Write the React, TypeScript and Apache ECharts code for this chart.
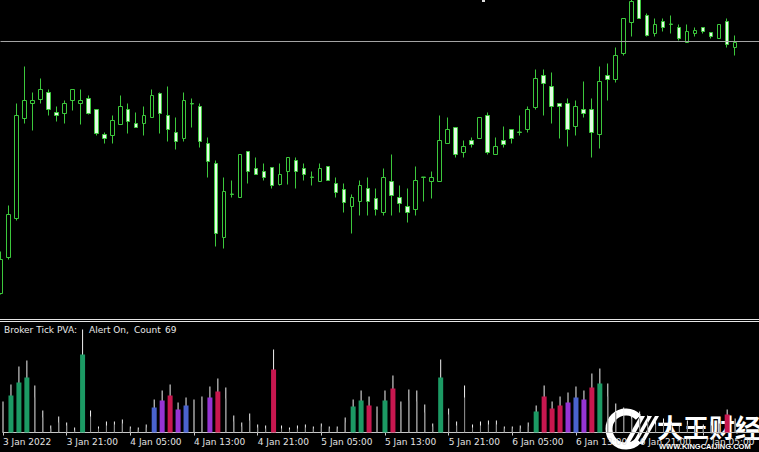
import React, { useEffect, useRef } from "react";
import * as echarts from "echarts";

// hourly categories (H1 chart), first bar 3 Jan 2022 13:00, with a few empty future slots on the right
const START_MS = Date.UTC(2022, 0, 3, 13);
const CATEGORY_COUNT = 96;
const categories: string[] = Array.from({ length: CATEGORY_COUNT }, (_, i) => {
  const d = new Date(START_MS + i * 3600000);
  const p = (n: number) => String(n).padStart(2, "0");
  return `${d.getUTCFullYear()}-${p(d.getUTCMonth() + 1)}-${p(d.getUTCDate())} ${p(d.getUTCHours())}:00`;
});

const tickLabels = [
  "3 Jan 2022", "3 Jan 21:00", "4 Jan 05:00", "4 Jan 13:00", "4 Jan 21:00", "5 Jan 05:00",
  "5 Jan 13:00", "5 Jan 21:00", "6 Jan 05:00", "6 Jan 13:00", "6 Jan 21:00", "7 Jan 05:00",
];

// price in chart points (relative)
const openP = [
  25, 61, 100, 200, 215, 219, 226, 206, 205, 218,
  215, 220, 209, 184, 183, 194, 209, 195, 195, 201,
  225, 203, 186, 180, 214.5, 212, 175, 155, 81, 124,
  121, 167, 150, 147, 151, 134, 147, 158, 150, 141,
  137, 152, 135, 129, 112, 117, 130, 120, 106, 137,
  121, 112, 109, 141, 137, 137, 175, 191, 166, 178,
  180, 203, 164, 178, 189, 186, 189, 211, 243, 232,
  215, 215, 192, 209, 209, 184, 243, 239, 265, 296,
  319, 303, 285, 297, 294, 291, 276, 285, 291, 286,
  280, 297, 271,
];
const closeP = [
  59, 104, 203, 218, 218, 229, 209, 203, 215, 229,
  218, 205, 185, 180, 198, 212, 197, 191, 203, 223,
  205, 189, 177, 218, 215, 177, 157, 85, 127, 124.5,
  164, 147, 144, 141, 133, 144, 161, 147, 144, 141.5,
  150, 138, 126, 116, 121, 133, 117, 109, 141, 123,
  115, 106, 138, 141.5, 141, 178, 189, 164, 172, 174,
  201, 166, 172, 174, 180, 186.5, 209, 240, 235, 212,
  212, 189, 212, 205, 186, 237, 239, 263, 300, 317,
  300, 283, 294, 291, 294.5, 280, 287, 288, 287, 282,
  294, 274, 276,
];
const highP = [
  67, 113, 215, 252, 226, 240, 229, 212, 218, 229,
  229, 223, 209, 186, 203, 223, 215, 206, 212, 229,
  226, 232, 201, 226, 220, 215, 181, 158, 141, 138,
  164, 167, 161, 155, 151, 155, 161, 161, 155, 147,
  155, 152, 141, 135, 124, 138, 141, 130, 150, 164,
  133, 130, 152, 141.5, 147, 203, 201, 191, 178, 181,
  201, 206, 181, 192, 189, 203, 212, 249, 249, 246,
  215, 220, 218, 237, 220, 252, 255, 271, 300, 321,
  321, 305, 300, 300, 303, 294, 294, 291, 291, 286,
  294, 300, 283,
];
const lowP = [
  24, 59, 98, 195, 188, 215, 203, 197, 195, 208,
  194, 204, 183, 175, 175, 194, 185, 191, 183, 201,
  185, 177, 169, 177, 191, 171, 141, 72, 70, 121,
  121, 135, 144, 138, 130, 133, 134, 130, 138, 133,
  137, 138, 121, 106, 85, 103, 103, 103, 103, 103,
  106, 96, 103, 117, 120, 137, 175, 161, 161, 171,
  180, 164, 164, 171, 175, 183, 186, 209, 203, 195,
  180, 172, 183, 201, 161, 170, 218, 236, 263, 282,
  300, 282, 282, 287, 285, 278, 276, 282, 285, 280,
  280, 271, 263,
];
const levelLine = 277;

// tick volume: full height and lower (coloured / grey) part
const volTotal = [
  31, 48, 66, 72, 47, 22, 7, 16, 10, 5,
  103, 22, 6, 11, 11, 13, 6, 5, 8, 33,
  42, 48, 30, 35, 33, 36, 46, 54, 45, 17,
  10, 19, 8, 7, 83, 7, 5, 7, 8, 6,
  9, 6, 6, 15, 33, 42, 36, 26, 42, 57,
  31, 43, 42, 28, 9, 73, 24, 11, 47, 8,
  11, 12, 12, 6, 6, 7, 10, 27, 47, 31,
  36, 40, 46, 42, 59, 64, 49, 29, 25, 20,
  21, 17, 12, 14, 11, 9, 12, 10, 8, 11,
  13, 23, 14,
];
const volBase = [
  23, 37, 50, 55, 35, 15, 4, 10, 7, 2,
  78, 16, 4, 7, 8, 9, 4, 3, 5, 25,
  32, 37, 23, 27, 22, 25, 35, 41, 34, 11,
  6, 12, 5, 4, 63, 4, 3, 4, 5, 4,
  6, 4, 4, 10, 26, 32, 27, 19, 32, 44,
  23, 32, 31, 20, 6, 55, 18, 7, 35, 5,
  7, 8, 8, 4, 4, 4, 6, 21, 36, 24,
  27, 30, 35, 33, 45, 49, 36, 20, 17, 14,
  14, 11, 8, 9, 7, 6, 8, 7, 5, 7,
  9, 18, 9,
];
// g = green, r = crimson, b = blue, p = purple, - = plain
const volKinds = (
  "-ggg------g--------bprpb--pr------r---------ggr-gr-----g-----------grrrpbprg---------------r-"
).split("");

const KIND_COLORS: Record<string, string> = {
  g: "#1c9a64",
  r: "#c8174f",
  b: "#4a63cf",
  p: "#9634d4",
};

const FONT = "DejaVu Sans";

export default function App() {
  const ref = useRef<HTMLDivElement>(null);

  useEffect(() => {
    document.body.style.margin = "0";
    document.body.style.background = "#000";
    if (!ref.current) return;
    const chart = echarts.init(ref.current, undefined, { renderer: "svg" });

    const candleData = categories.map((_, i) =>
      i < openP.length ? [openP[i], closeP[i], lowP[i], highP[i]] : "-"
    );
    const totalData = categories.map((_, i) => (i < volTotal.length ? volTotal[i] : "-"));
    const thinData = categories.map((_, i) =>
      i < volBase.length && volKinds[i] === "-" ? volBase[i] : "-"
    );
    const colData = categories.map((_, i) =>
      i < volBase.length && volKinds[i] !== "-"
        ? { value: volBase[i], itemStyle: { color: KIND_COLORS[volKinds[i]] } }
        : "-"
    );

    const hiddenCat = (gridIndex: number) => ({
      type: "category",
      gridIndex,
      data: categories,
      boundaryGap: false,
      show: false,
    });

    const option: any = {
      animation: false,
      backgroundColor: "#000000",
      grid: [
        { left: 0.5, top: 0.5, width: 760, height: 318 },
        { left: 0.5, top: 322.5, width: 760, height: 110 },
      ],
      xAxis: [
        hiddenCat(0),
        {
          type: "category",
          gridIndex: 1,
          data: categories,
          boundaryGap: false,
          axisLine: { show: true, lineStyle: { color: "#c8c8c8", width: 1 } },
          axisTick: {
            show: true,
            length: 3,
            interval: (idx: number) => idx % 8 === 0,
            lineStyle: { color: "#c8c8c8" },
          },
          axisLabel: {
            show: true,
            interval: (idx: number) => idx % 8 === 0,
            formatter: (_v: string, idx: number) => tickLabels[Math.round(idx / 8)] ?? "",
            align: "left",
            margin: 5,
            color: "#e2e2e2",
            fontSize: 9,
            fontFamily: FONT,
          },
          splitLine: { show: false },
        },
        hiddenCat(1),
        hiddenCat(1),
      ],
      yAxis: [
        { type: "value", gridIndex: 0, min: 0, max: 318, show: false, splitLine: { show: false } },
        { type: "value", gridIndex: 1, min: 0, max: 110, show: false, splitLine: { show: false } },
      ],
      series: [
        {
          type: "candlestick",
          xAxisIndex: 0,
          yAxisIndex: 0,
          data: candleData,
          barWidth: 4,
          itemStyle: {
            color: "#000000",
            color0: "#e4fbe4",
            borderColor: "#3cc83c",
            borderColor0: "#3cc83c",
            borderWidth: 1,
          },
          markLine: {
            silent: true,
            symbol: "none",
            label: { show: false },
            lineStyle: { color: "#a4a4a4", width: 1, type: "solid" },
            data: [{ yAxis: levelLine }],
          },
        },
        {
          type: "bar",
          xAxisIndex: 1,
          yAxisIndex: 1,
          data: totalData,
          barWidth: 1,
          itemStyle: { color: "#f2f2f2" },
        },
        {
          type: "bar",
          xAxisIndex: 2,
          yAxisIndex: 1,
          data: thinData,
          barWidth: 1,
          itemStyle: { color: "#7e7e7e" },
        },
        {
          type: "bar",
          xAxisIndex: 3,
          yAxisIndex: 1,
          data: colData,
          barWidth: 5,
        },
      ],
      graphic: [
        { type: "rect", shape: { x: 482, y: 0, width: 3, height: 2 }, style: { fill: "#dddddd" } },
        {
          type: "line",
          shape: { x1: 0, y1: 319.5, x2: 759, y2: 319.5 },
          style: { stroke: "#e6e6e6", lineWidth: 1 },
        },
        {
          type: "line",
          shape: { x1: 0, y1: 321.5, x2: 759, y2: 321.5 },
          style: { stroke: "#e6e6e6", lineWidth: 1 },
        },
        {
          type: "text",
          x: 4,
          y: 325,
          style: { text: "Broker Tick PVA:", fill: "#e8e8e8", fontSize: 9, fontFamily: FONT, verticalAlign: "top" },
        },
        {
          type: "text",
          x: 89,
          y: 325,
          style: { text: "Alert On,", fill: "#e8e8e8", fontSize: 9, fontFamily: FONT, verticalAlign: "top" },
        },
        {
          type: "text",
          x: 134,
          y: 325,
          style: { text: "Count", fill: "#e8e8e8", fontSize: 9, fontFamily: FONT, verticalAlign: "top" },
        },
        {
          type: "text",
          x: 165,
          y: 325,
          style: { text: "69", fill: "#e8e8e8", fontSize: 9, fontFamily: FONT, verticalAlign: "top" },
        },
        // watermark
        {
          type: "arc",
          shape: { cx: 626, cy: 429, r: 17, startAngle: 0.75, endAngle: Math.PI * 2 - 0.75, clockwise: true },
          style: { stroke: "#ffffff", lineWidth: 7, fill: "none" },
        },
        {
          type: "polygon",
          shape: { points: [[624, 444], [629, 444], [645, 416], [640, 416]] },
          style: { fill: "#ffffff" },
        },
        {
          type: "polygon",
          shape: { points: [[632, 444], [636, 444], [652, 416], [648, 416]] },
          style: { fill: "#ffffff" },
        },
        {
          type: "polygon",
          shape: { points: [[639, 444], [643, 444], [659, 416], [655, 416]] },
          style: { fill: "#ffffff" },
        },
        {
          type: "text",
          x: 657,
          y: 413,
          style: {
            text: "大王财经",
            fill: "#ffffff",
            fontSize: 26,
            fontWeight: "bold",
            fontFamily: "Noto Sans CJK SC",
            verticalAlign: "top",
          },
        },
        {
          type: "text",
          x: 659,
          y: 442,
          style: {
            text: "WWW.KINGCAIJING.COM",
            fill: "#ffffff",
            fontSize: 7.5,
            fontWeight: "bold",
            fontFamily: "Liberation Sans",
            verticalAlign: "top",
          },
        },
      ],
    };

    chart.setOption(option);
    return () => chart.dispose();
  }, []);

  return (
    <div
      ref={ref}
      style={{ position: "absolute", left: 0, top: 0, width: 759, height: 452, background: "#000" }}
    />
  );
}
